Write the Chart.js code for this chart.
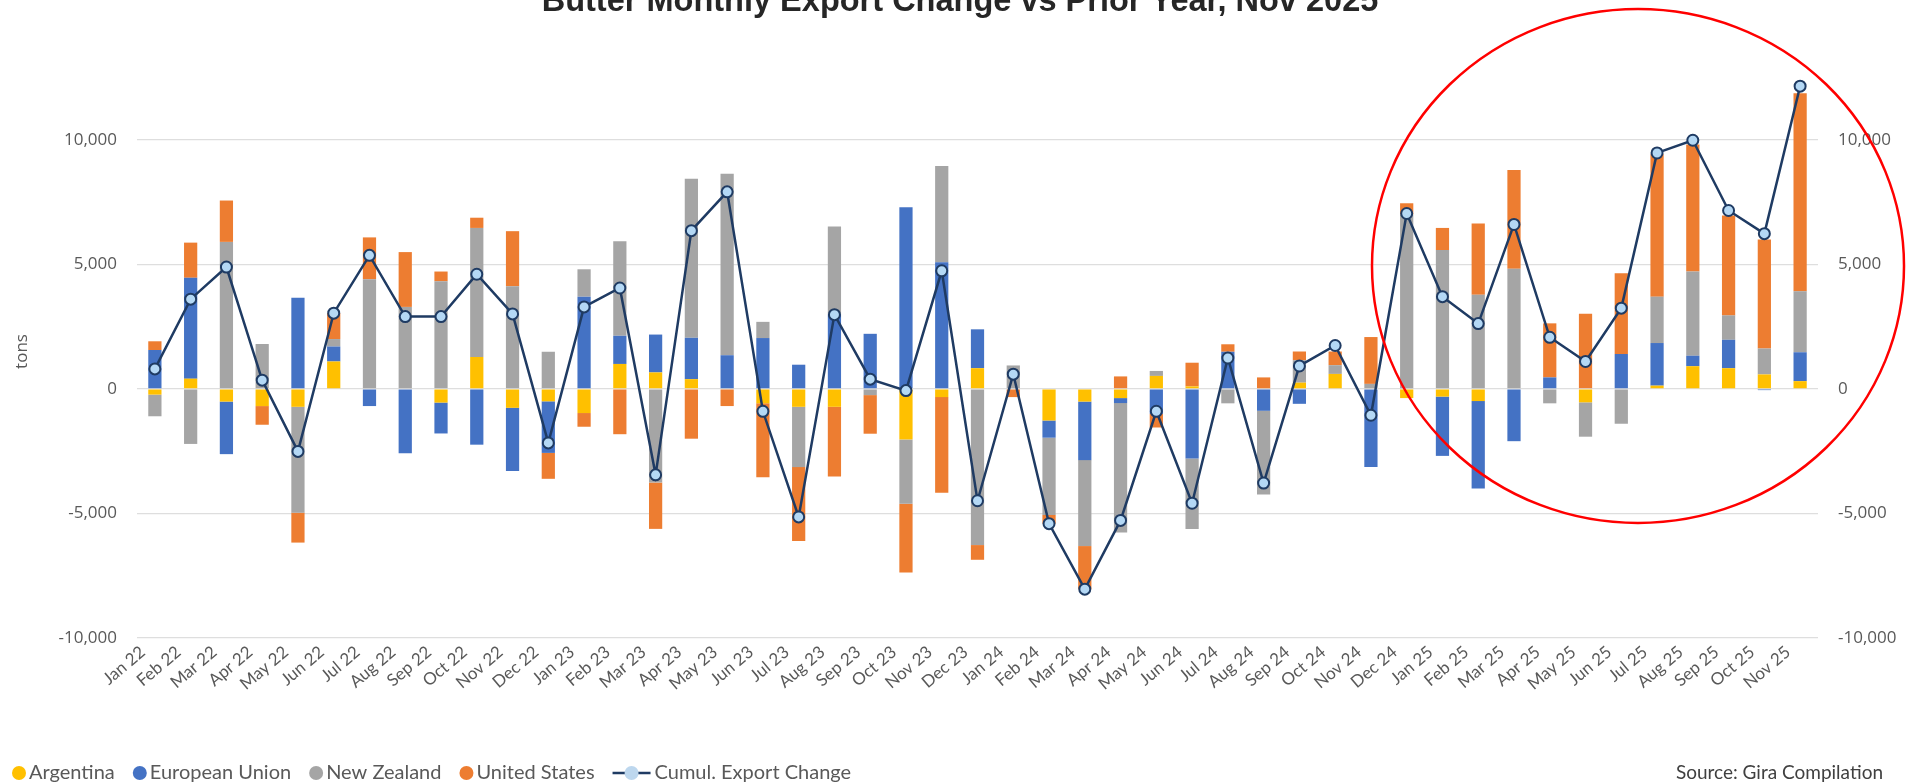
<!DOCTYPE html>
<html>
<head>
<meta charset="utf-8">
<title>Butter Monthly Export Change vs Prior Year, Nov 2025</title>
<script src="https://cdn.jsdelivr.net/npm/chart.js@4.4.1/dist/chart.umd.min.js"></script>
<style>
  html, body { margin: 0; padding: 0; background: #ffffff; }
  #wrap { width: 1907px; height: 784px; }
</style>
</head>
<body>
<div id="wrap"><canvas id="chart" width="1907" height="784"></canvas></div>
<script>
const TITLE = 'Butter Monthly Export Change vs Prior Year, Nov 2025';
const SOURCE = 'Source: Gira Compilation';

const months = [
  'Jan 22', 'Feb 22', 'Mar 22', 'Apr 22', 'May 22', 'Jun 22', 'Jul 22', 'Aug 22', 'Sep 22', 'Oct 22', 'Nov 22', 'Dec 22',
  'Jan 23', 'Feb 23', 'Mar 23', 'Apr 23', 'May 23', 'Jun 23', 'Jul 23', 'Aug 23', 'Sep 23', 'Oct 23', 'Nov 23', 'Dec 23',
  'Jan 24', 'Feb 24', 'Mar 24', 'Apr 24', 'May 24', 'Jun 24', 'Jul 24', 'Aug 24', 'Sep 24', 'Oct 24', 'Nov 24', 'Dec 24',
  'Jan 25', 'Feb 25', 'Mar 25', 'Apr 25', 'May 25', 'Jun 25', 'Jul 25', 'Aug 25', 'Sep 25', 'Oct 25', 'Nov 25'
];

// tons, change vs same month of prior year
const argentina = [
  -230, 410, -510, -690, -720, 1100, 0, 0, -550, 1280, -760, -500,
  -970, 1000, 660, 390, 0, -580, -720, -720, 0, -2030, -330, 830,
  0, -1270, -510, -370, 520, 100, 0, 0, 250, 600, 0, -370,
  -310, -490, 0, 0, -540, 0, 130, 910, 830, 580, 310
];
const europeanUnion = [
  1560, 4050, -2110, 0, 3660, 600, -690, -2580, -1240, -2240, -2540, -2070,
  3700, 1130, 1520, 1660, 1350, 2040, 970, 3000, 2210, 7290, 5080, 1560,
  0, -690, -2350, -200, -1000, -2790, 1490, -880, -600, 0, -3140, 0,
  -2380, -3510, -2100, 460, 0, 1400, 1710, 420, 1140, -50, 1160
];
const newZealand = [
  -870, -2210, 5900, 1800, -4250, 300, 4400, 3290, 4320, 5180, 4120, 1490,
  1100, 3800, -3760, 6380, 7280, 650, -2420, 3520, -250, -2580, 3870, -6270,
  940, -3100, -3450, -5200, 200, -2830, -580, -3360, 900, 350, 200, 7000,
  5570, 3780, 4820, -580, -1380, -1400, 1860, 3380, 980, 1040, 2450
];
const unitedStates = [
  350, 1410, 1660, -750, -1200, 1040, 1680, 2200, 390, 410, 2210, -1040,
  -550, -1820, -1860, -2000, -690, -2970, -2970, -2800, -1550, -2760, -3840, -590,
  -330, -350, -1730, 500, -550, 950, 300, 460, 350, 550, 1880, 450,
  890, 2860, 3970, 2170, 3020, 3240, 5720, 5100, 4010, 4380, 7950
];
const cumulChange = [
  800, 3600, 4890, 350, -2510, 3040, 5360, 2900, 2900, 4600, 3010, -2170,
  3290, 4050, -3450, 6350, 7910, -900, -5140, 2980, 390, -70, 4740, -4490,
  590, -5410, -8040, -5280, -900, -4590, 1240, -3780, 920, 1740, -1060, 7040,
  3700, 2620, 6600, 2070, 1100, 3240, 9470, 9980, 7160, 6230, 12150
];

const yTicks = [-10000, -5000, 0, 5000, 10000];
const yMin = -10000;
const yMax = 13000;

const gray = '#595959';
const fmt = (v) => v.toLocaleString('en-US');
const fixTicks = (scale) => { scale.ticks = yTicks.map((v) => ({ value: v })); };

// title, legend, source note and the red highlight ring
const overlay = {
  id: 'overlay',
  afterDraw(chart) {
    const ctx = chart.ctx;
    ctx.save();

    ctx.font = 'bold 100px "Liberation Sans"';
    const size = 100 * 837 / ctx.measureText(TITLE).width;
    ctx.font = `bold ${size}px "Liberation Sans"`;
    ctx.fillStyle = '#262626';
    ctx.textAlign = 'center';
    ctx.textBaseline = 'alphabetic';
    ctx.fillText(TITLE, 960, 11);

    let x = 12;
    const y = 773;
    ctx.font = '20px Lato';
    ctx.textAlign = 'left';
    ctx.textBaseline = 'middle';
    chart.data.datasets.forEach((ds) => {
      if (ds.type === 'line') {
        ctx.strokeStyle = ds.borderColor;
        ctx.lineWidth = 2.5;
        ctx.beginPath();
        ctx.moveTo(x, y);
        ctx.lineTo(x + 38, y);
        ctx.stroke();
        ctx.beginPath();
        ctx.arc(x + 19, y, 7, 0, Math.PI * 2);
        ctx.fillStyle = '#BDD7EE';
        ctx.fill();
        x += 42;
      } else {
        ctx.beginPath();
        ctx.arc(x + 7, y, 7, 0, Math.PI * 2);
        ctx.fillStyle = ds.backgroundColor;
        ctx.fill();
        x += 17;
      }
      ctx.fillStyle = gray;
      ctx.fillText(ds.label, x, y);
      x += ctx.measureText(ds.label).width + 18;
    });

    ctx.textAlign = 'right';
    ctx.fillStyle = '#404040';
    ctx.font = '19px Lato';
    ctx.fillText(SOURCE, 1883, y);

    ctx.beginPath();
    ctx.ellipse(1638, 266, 266, 257, 0, 0, Math.PI * 2);
    ctx.strokeStyle = '#FF0000';
    ctx.lineWidth = 2.5;
    ctx.stroke();

    ctx.restore();
  }
};

const barSet = (label, data, color) => ({
  type: 'bar',
  label: label,
  data: data,
  backgroundColor: color,
  borderWidth: 0,
  barPercentage: 0.37,
  categoryPercentage: 1.0,
  yAxisID: 'y',
  order: 2
});

const ctx = document.getElementById('chart').getContext('2d');
new Chart(ctx, {
  data: {
    labels: months,
    datasets: [
      barSet('Argentina', argentina, '#FFC000'),
      barSet('European Union', europeanUnion, '#4472C4'),
      barSet('New Zealand', newZealand, '#A5A5A5'),
      barSet('United States', unitedStates, '#ED7D31'),
      {
        type: 'line',
        label: 'Cumul. Export Change',
        data: cumulChange,
        stack: 'cumul',
        borderColor: '#1F3B63',
        borderWidth: 2.5,
        pointRadius: 5.5,
        pointBorderWidth: 2,
        pointBackgroundColor: '#B4D8F5',
        pointBorderColor: '#1F3B63',
        tension: 0,
        yAxisID: 'y',
        order: 0
      }
    ]
  },
  options: {
    responsive: false,
    animation: false,
    layout: { padding: { top: 65, left: 0, right: 0, bottom: 0 } },
    plugins: {
      legend: { display: false },
      title: { display: false },
      tooltip: { enabled: false }
    },
    scales: {
      x: {
        stacked: true,
        grid: { display: false, drawTicks: false },
        border: { display: false },
        ticks: {
          autoSkip: false,
          minRotation: 40,
          maxRotation: 40,
          padding: 4,
          labelOffset: -12,
          color: gray,
          font: { family: 'Lato', size: 17 }
        },
        afterFit: (scale) => { scale.height = 146; }
      },
      y: {
        stacked: true,
        position: 'left',
        min: yMin,
        max: yMax,
        grid: { color: '#DEDEDE', lineWidth: 1.2, drawTicks: false },
        border: { display: false },
        afterBuildTicks: fixTicks,
        ticks: {
          padding: 20,
          color: gray,
          font: { family: 'Open Sans', size: 17 },
          callback: (v) => fmt(v)
        },
        title: {
          display: true,
          text: 'tons',
          color: gray,
          font: { family: 'Open Sans', size: 17 },
          padding: { top: 12, bottom: 0 }
        },
        afterFit: (scale) => { scale.width = 137; }
      },
      y2: {
        position: 'right',
        min: yMin,
        max: yMax,
        grid: { display: false, drawTicks: false },
        border: { display: false },
        afterBuildTicks: fixTicks,
        ticks: {
          padding: 20,
          color: gray,
          font: { family: 'Open Sans', size: 17 },
          callback: (v) => fmt(v)
        },
        afterFit: (scale) => { scale.width = 89; }
      }
    }
  },
  plugins: [overlay]
});
</script>
</body>
</html>
